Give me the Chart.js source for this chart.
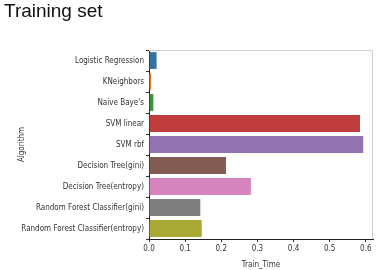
<!DOCTYPE html>
<html>
<head>
<meta charset="utf-8">
<script src="https://cdn.jsdelivr.net/npm/chart.js@4"></script>
<style>
  body { margin: 0; background: #fff; }
  #wrap { position: relative; width: 380px; height: 270px; }
  #title { position: absolute; left: 4px; top: 0px; font: 19px "Liberation Sans", Arial, sans-serif; color: #111; }
  canvas { position: absolute; left: 0; top: 0; }
</style>
</head>
<body>
<div id="wrap">
  <canvas id="chart" width="380" height="270"></canvas>
  <div id="title">Training set</div>
</div>
<script>
const algorithms = ['Logistic Regression', 'KNeighbors', "Naive Baye's", 'SVM linear', 'SVM rbf',
  'Decision Tree(gini)', 'Decision Tree(entropy)', 'Random Forest Classifier(gini)', 'Random Forest Classifier(entropy)'];
const trainTime = [0.021, 0.006, 0.012, 0.584, 0.593, 0.213, 0.282, 0.142, 0.146];
const barColors = ['#3274a1', '#e1812c', '#3a923a', '#c03d3e', '#9372b2', '#845b53', '#d684bd', '#7f7f7f', '#a9aa35'];
const xTicks = [0.0, 0.1, 0.2, 0.3, 0.4, 0.5, 0.6];

const tickFont = { family: '"DejaVu Sans Condensed", "Liberation Sans Narrow", "DejaVu Sans", sans-serif', size: 8 };

const frame = {
  id: 'frame',
  afterDraw(chart) {
    const a = chart.chartArea, ctx = chart.ctx;
    ctx.save();
    ctx.strokeStyle = '#cfcfcf';
    ctx.lineWidth = 1;
    ctx.beginPath();
    ctx.moveTo(a.left, a.top + 0.5);
    ctx.lineTo(a.right - 0.5, a.top + 0.5);
    ctx.lineTo(a.right - 0.5, a.bottom);
    ctx.stroke();
    ctx.restore();
  }
};

new Chart(document.getElementById('chart'), {
  type: 'bar',
  data: {
    labels: algorithms,
    datasets: [{ data: trainTime, backgroundColor: barColors, categoryPercentage: 0.8, barPercentage: 1.0 }]
  },
  options: {
    indexAxis: 'y',
    responsive: false,
    animation: false,
    layout: { padding: { top: 50, right: 7, left: 0, bottom: 0 } },
    plugins: { legend: { display: false }, tooltip: { enabled: false } },
    scales: {
      x: {
        min: 0, max: 0.62,
        afterBuildTicks: s => { s.ticks = xTicks.map(v => ({ value: v })); },
        afterFit: s => { s.height = 31; },
        ticks: { font: tickFont, color: '#333', padding: 2, callback: v => v.toFixed(1) },
        grid: { drawOnChartArea: false, tickLength: 3, color: '#333' },
        border: { color: '#222', width: 1 },
        title: { display: true, text: 'Train_Time', font: tickFont, color: '#333', padding: { top: 2, bottom: 0 } }
      },
      y: {
        afterFit: s => { s.width = 149; },
        ticks: { font: tickFont, color: '#333', padding: 2 },
        grid: { drawOnChartArea: false, tickLength: 3, color: '#333' },
        border: { color: '#222', width: 1 },
        title: { display: true, text: 'Algorithm', font: tickFont, color: '#333', padding: { top: 17, bottom: 4 } }
      }
    }
  },
  plugins: [frame]
});
</script>
</body>
</html>
